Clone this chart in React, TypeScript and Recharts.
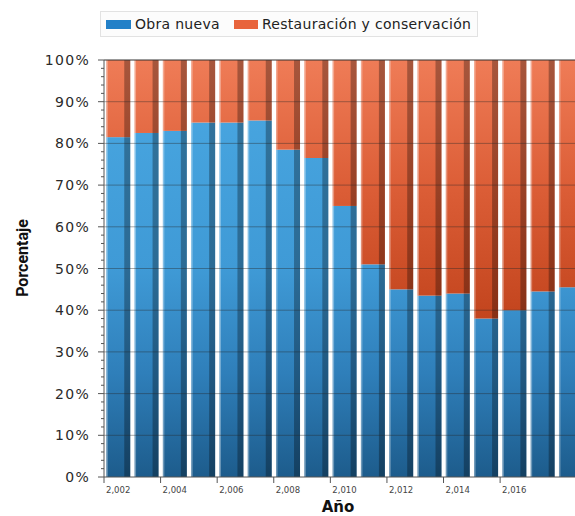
import { BarChart, Bar, XAxis, YAxis, ReferenceLine } from 'recharts';

const years = [2002, 2003, 2004, 2005, 2006, 2007, 2008, 2009, 2010, 2011, 2012, 2013, 2014, 2015, 2016, 2017, 2018];
const obraNueva = [81.5, 82.5, 83, 85, 85, 85.5, 78.5, 76.5, 65, 51, 45, 43.5, 44, 38, 40, 44.5, 45.5];
const restauracion = [18.5, 17.5, 17, 15, 15, 14.5, 21.5, 23.5, 35, 49, 55, 56.5, 56, 62, 60, 55.5, 54.5];
const xTicks = [2002, 2004, 2006, 2008, 2010, 2012, 2014, 2016];
const yTicks = [0, 2, 4, 6, 8, 10, 12, 14, 16, 18, 20, 22, 24, 26, 28, 30, 32, 34, 36, 38, 40, 42, 44, 46, 48, 50, 52, 54, 56, 58, 60, 62, 64, 66, 68, 70, 72, 74, 76, 78, 80, 82, 84, 86, 88, 90, 92, 94, 96, 98, 100];
const gridLines = [10, 20, 30, 40, 50, 60, 70, 80, 90];

const data = years.map((year, i) => ({ year, obra: obraNueva[i], rest: restauracion[i] }));

const W = 590;
const H = 516;
const LEFT = 104;
const RIGHT = 5;
const SLOT = (W - RIGHT - LEFT) / years.length;

const Bar3D = (props: any) => {
  const { x, y, width, height, fill } = props;
  if (!height || height <= 0) return null;
  const side = 6;
  return (
    <g>
      <rect x={x} y={y} width={width} height={height} fill={fill} />
      <rect x={x + width - side} y={y} width={side} height={height} fill="#000" opacity={0.3} />
      <rect x={x} y={y} width={1.5} height={height} fill="#fff" opacity={0.35} />
    </g>
  );
};

const YTick = (props: any) => {
  const { x, y, payload } = props;
  const v = payload.value;
  const major = v % 10 === 0;
  return (
    <g>
      <line x1={x - (major ? 6 : 3)} x2={x} y1={y} y2={y} stroke="#555" strokeWidth={1} />
      {major && (
        <text x={x - 14} y={y + 5} textAnchor="end" fontSize={14} letterSpacing={1.3} fill="#2a2a2a" fontFamily="DejaVu Sans">
          {v}%
        </text>
      )}
    </g>
  );
};

const XTick = (props: any) => {
  const { x, y, payload } = props;
  const v = String(payload.value);
  const label = v.slice(0, 1) + ',' + v.slice(1);
  return (
    <g>
      <line x1={x - SLOT / 2} x2={x - SLOT / 2} y1={y} y2={y + 6} stroke="#555" strokeWidth={1} />
      <text x={x} y={y + 16} textAnchor="middle" fontSize={8.5} fill="#444" fontFamily="DejaVu Sans">
        {label}
      </text>
    </g>
  );
};

export default function App() {
  return (
    <div style={{ position: 'absolute', left: 0, top: 0, width: 575, height: 516, overflow: 'hidden', background: '#fff', fontFamily: 'DejaVu Sans' }}>
      <BarChart width={W} height={H} data={data} margin={{ top: 60, right: RIGHT, left: 0, bottom: 0 }} barCategoryGap="8%">
        <defs>
          <linearGradient id="gBlue" gradientUnits="userSpaceOnUse" x1="0" y1="60" x2="0" y2="477">
            <stop offset="0" stopColor="#4aa8e2" />
            <stop offset="0.5" stopColor="#3f9ad6" />
            <stop offset="0.75" stopColor="#2f7fba" />
            <stop offset="1" stopColor="#1d5c8c" />
          </linearGradient>
          <linearGradient id="gOrange" gradientUnits="userSpaceOnUse" x1="0" y1="60" x2="0" y2="477">
            <stop offset="0" stopColor="#ef7c57" />
            <stop offset="0.3" stopColor="#dc5e37" />
            <stop offset="0.6" stopColor="#c4461f" />
            <stop offset="1" stopColor="#b23c18" />
          </linearGradient>
        </defs>
        <XAxis
          dataKey="year"
          ticks={xTicks}
          interval={0}
          height={H - 477}
          tickLine={false}
          tickSize={0}
          tickMargin={0}
          axisLine={{ stroke: '#555' }}
          tick={<XTick />}
        />
        <YAxis
          type="number"
          domain={[0, 100]}
          ticks={yTicks}
          interval={0}
          width={LEFT}
          tickLine={false}
          tickSize={0}
          tickMargin={0}
          axisLine={{ stroke: '#555' }}
          tick={<YTick />}
        />
        <Bar dataKey="obra" name="Obra nueva" stackId="a" fill="url(#gBlue)" shape={<Bar3D />} isAnimationActive={false} />
        <Bar dataKey="rest" name="Restauración y conservación" stackId="a" fill="url(#gOrange)" shape={<Bar3D />} isAnimationActive={false} />
        {gridLines.map((g) => (
          <ReferenceLine key={g} y={g} stroke="rgba(40,40,40,0.4)" strokeWidth={1} />
        ))}
        <ReferenceLine y={100} stroke="#333" strokeWidth={1} />
      </BarChart>
      <div
        style={{
          position: 'absolute',
          left: 100,
          top: 11,
          width: 378,
          height: 26,
          display: 'flex',
          alignItems: 'center',
          boxSizing: 'border-box',
          border: '1px solid #e2e2e2',
          background: '#fcfcfc',
          fontFamily: 'DejaVu Sans',
          fontSize: 14,
          letterSpacing: 0.3,
          color: '#222',
          paddingLeft: 5,
        }}
      >
        <span style={{ display: 'inline-block', width: 25, height: 9, background: '#2280c8', marginRight: 4 }} />
        <span style={{ marginRight: 14 }}>Obra nueva</span>
        <span style={{ display: 'inline-block', width: 24, height: 9, background: '#e8643c', marginRight: 4 }} />
        <span>Restauración y conservación</span>
      </div>
      <div
        style={{
          position: 'absolute',
          left: 22,
          top: 258,
          transform: 'translate(-50%, -50%) rotate(-90deg)',
          fontFamily: 'Roboto',
          fontWeight: 700,
          fontSize: 16,
          color: '#111',
          whiteSpace: 'nowrap',
        }}
      >
        Porcentaje
      </div>
      <div
        style={{
          position: 'absolute',
          left: 338,
          top: 499,
          transform: 'translateX(-50%)',
          fontFamily: 'DejaVu Sans',
          fontWeight: 700,
          fontSize: 15,
          lineHeight: '17px',
          color: '#111',
          whiteSpace: 'nowrap',
        }}
      >
        Año
      </div>
    </div>
  );
}
